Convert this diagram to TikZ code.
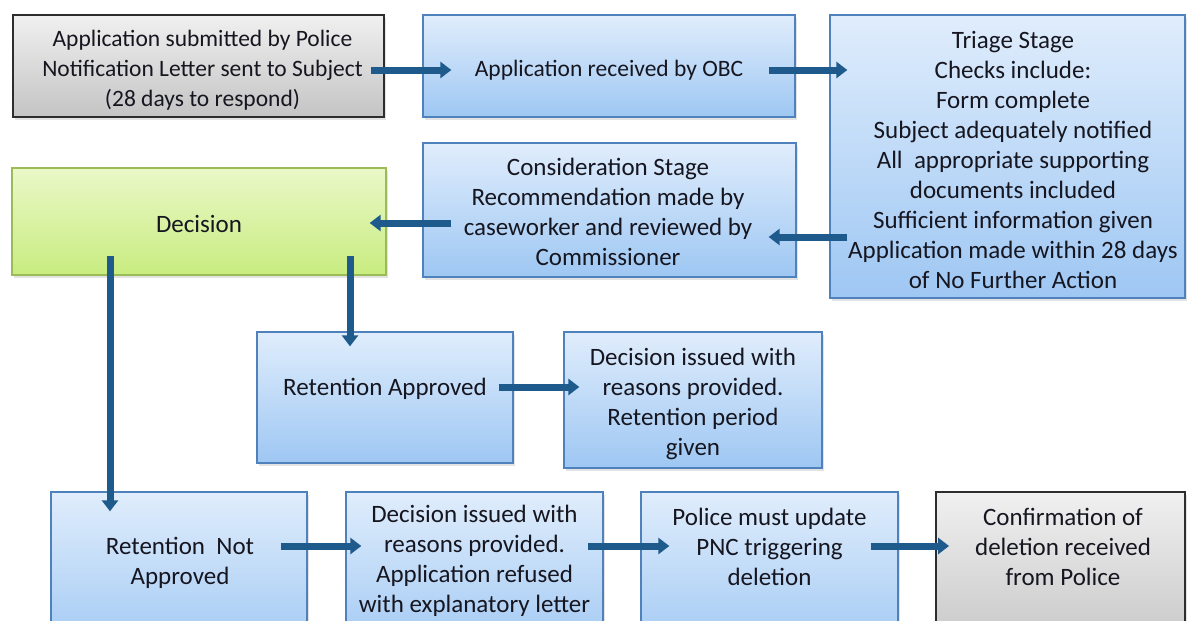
\documentclass[tikz,border=0pt]{standalone}
\usepackage{fontspec}
\setmainfont{Carlito}
\usetikzlibrary{arrows.meta,shadows,calc}
\definecolor{bluebd}{RGB}{79,129,189}
\definecolor{bluetop}{RGB}{224,237,252}
\definecolor{bluebot}{RGB}{158,199,243}
\definecolor{greenbd}{RGB}{155,187,89}
\definecolor{greentop}{RGB}{234,248,200}
\definecolor{greenbot}{RGB}{200,236,128}
\definecolor{graybd}{RGB}{45,45,45}
\definecolor{graytop}{RGB}{240,240,240}
\definecolor{graybot}{RGB}{196,196,196}
\definecolor{arrc}{RGB}{31,90,140}
\definecolor{txtc}{RGB}{22,22,32}
\begin{document}
\begin{tikzpicture}[x=1pt,y=-1pt,
  box/.style={rectangle, inner sep=0pt, line width=1.3pt,
    drop shadow={opacity=0.22, shadow xshift=2pt, shadow yshift=-2.5pt}},
  bluebox/.style={box, draw=bluebd, top color=bluetop, bottom color=bluebot},
  greenbox/.style={box, draw=greenbd, top color=greentop, bottom color=greenbot},
  graybox/.style={box, draw=graybd, line width=1.8pt, top color=graytop, bottom color=graybot},
  lbl/.style={inner sep=0pt, align=center, font=\fontsize{25}{30}\selectfont, text=txtc},
  lblsmall/.style={lbl, font=\fontsize{23.5}{30}\selectfont},
  arr/.style={line width=7pt, draw=arrc, -{Triangle[width=16pt,length=11pt]}}
]
\useasboundingbox (0,0) rectangle (1187,621);
\clip (0,0) rectangle (1187,621);
\fill[white] (0,0) rectangle (1187,621);

% boxes
\node[graybox,  minimum width=371pt, minimum height=102pt] (b1) at (198.5,66) {};
\node[bluebox,  minimum width=372pt, minimum height=102pt] (b2) at (609,66) {};
\node[bluebox,  minimum width=355pt, minimum height=283pt] (b3) at (1007.5,156.5) {};
\node[bluebox,  minimum width=373pt, minimum height=134pt] (b4) at (609.5,210) {};
\node[greenbox, minimum width=374pt, minimum height=107pt] (b5) at (199,221.5) {};
\node[bluebox,  minimum width=256pt, minimum height=131pt] (b6) at (385,397.5) {};
\node[bluebox,  minimum width=258pt, minimum height=136pt] (b7) at (693,400) {};
\node[bluebox,  minimum width=256pt, minimum height=168pt] (b8) at (179,576) {};
\node[bluebox,  minimum width=257pt, minimum height=168pt] (b9) at (474.5,576) {};
\node[bluebox,  minimum width=257pt, minimum height=168pt] (b10) at (769.5,576) {};
\node[graybox,  minimum width=249pt, minimum height=168pt] (b11) at (1060.5,576) {};

% texts
\node[lblsmall] (t1) at (202.5,70)
  {Application submitted by Police\\Notification Letter sent to Subject\\(28 days to respond)};
\node[lblsmall] (t2) at (609,70) {Application received by OBC};
\node[lbl] (t3) at (1013,160)
  {Triage Stage\\Checks include:\\Form complete\\Subject adequately notified\\All~ appropriate supporting\\documents included\\Sufficient information given\\Application made within 28 days\\of No Further Action};
\node[lbl] (t4) at (608,212)
  {Consideration Stage\\Recommendation made by\\caseworker and reviewed by\\Commissioner};
\node[lbl] (t5) at (199,223.5) {Decision};
\node[lbl] (t6) at (385,388.5) {Retention Approved};
\node[lbl] (t7) at (693,403.5)
  {Decision issued with\\reasons provided.\\Retention period\\given};
\node[lbl] (t8) at (180,562.5) {Retention~ Not\\Approved};
\node[lbl] (t9) at (474.5,561)
  {Decision issued with\\reasons provided.\\Application refused\\with explanatory letter};
\node[lbl] (t10) at (769.5,547) {Police must update\\PNC triggering\\deletion};
\node[lbl] (t11) at (1063,547) {Confirmation of\\deletion received\\from Police};

% connectors
\draw[arr] ($(b1.east)+(-14,4)$) -- ($(b2.west)+(29,4)$);
\draw[arr] ($(b2.east)+(-27,4)$) -- ($(b2.east -| b3.west)+(18,4)$);
\draw[arr] ($(b3.west)+(18,80.5)$) -- ($(b4.east |- b3.west)+(-28,80.5)$);
\draw[arr] ($(b4.west)+(29,13)$) -- ($(b5.east |- b4.west)+(-17,13)$);
\draw[arr] ($(b6.north |- b5.south)+(-35,-20)$) -- ($(b6.north)+(-35,15)$);
\draw[arr] ($(b5.south)+(-89,-20)$) -- ($(b8.north -| b5.south)+(-89,20)$);
\draw[arr] ($(b6.east)+(-15,-10.5)$) -- ($(b7.west |- b6.east)+(16,-10.5)$);
\draw[arr] ($(b8.east)+(-27,-30)$) -- ($(b9.west)+(16,-30)$);
\draw[arr] ($(b9.east)+(-16,-30)$) -- ($(b10.west)+(29,-30)$);
\draw[arr] ($(b10.east)+(-28,-30)$) -- ($(b11.west)+(14,-30)$);
\end{tikzpicture}
\end{document}
